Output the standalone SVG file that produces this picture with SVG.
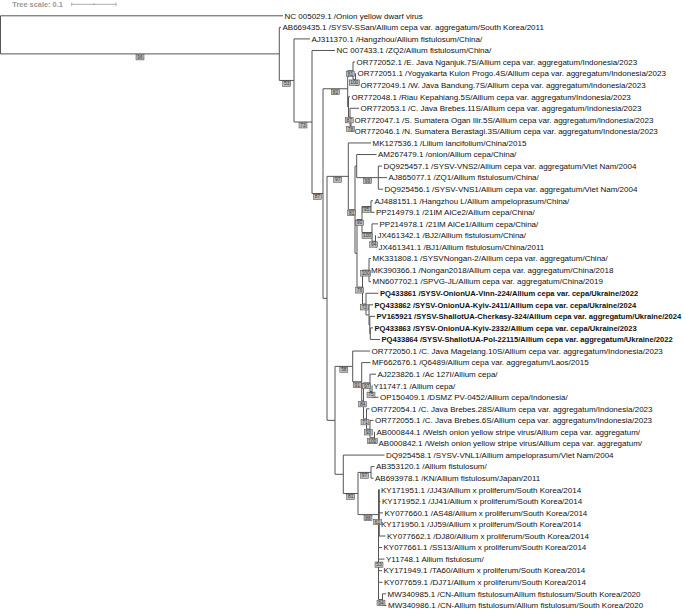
<svg xmlns="http://www.w3.org/2000/svg" width="685" height="609" viewBox="0 0 685 609">
<style>
.t{font-family:"Liberation Sans",Arial,sans-serif;font-size:8px;fill:#111}
.b{font-weight:bold;font-size:7.6px}
.br{stroke:#555;stroke-width:1;fill:none}
.bs rect{fill:#bdbdbd;stroke:#444;stroke-width:0.5}
.bs text{font-family:"Liberation Sans",Arial,sans-serif;font-size:4.8px;fill:#333;text-anchor:middle}
.sc{font-family:"Liberation Sans",Arial,sans-serif;font-size:7.4px;font-weight:bold;fill:#999}
</style>
<rect width="685" height="609" fill="#fff"/>
<g id="scale">
<text class="sc" x="12.3" y="7">Tree scale: 0.1</text>
<path d="M71.7,4.3H116M71.7,2.6V6M116,2.6V6M94,3.3V5.3" stroke="#999" stroke-width="0.8" fill="none"/>
</g>
<g id="connectors" class="br">
<path d="M0.5,15.8V53.9M0.5,15.8H283M0.5,53.9H279.3"/>
<path d="M279.3,27.36V80.45M279.3,27.36H281M279.3,80.45H294"/>
<path d="M294,38.92V122M294,38.92H310M294,122H312"/>
<path d="M312,50.48V193.55M312,50.48H335M312,193.55H323"/>
<path d="M323,88.75V298.35M323,88.75H347.7M323,298.35H327"/>
<path d="M347.7,70.7V106.8M347.7,70.7H353M347.7,106.8H348.5"/>
<path d="M353,62.04V79.38M353,62.04H355M353,79.38H355.5"/>
<path d="M355.5,73.6V85.16M355.5,73.6H356M355.5,85.16H359"/>
<path d="M348.5,96.72V116.95M348.5,96.72H350M348.5,116.95H350"/>
<path d="M350,108.28V125.62M350,108.28H359M350,125.62H351"/>
<path d="M351,119.84V131.4M351,119.84H353M351,131.4H353"/>
<path d="M327,176.35V420.35M327,176.35H348.3M327,420.35H335"/>
<path d="M348.3,142.96V209.7M348.3,142.96H371M348.3,209.7H355"/>
<path d="M355,166.1V253.3M355,166.1H356.7M355,253.3H357"/>
<path d="M356.7,154.52V177.64M356.7,154.52H376.5M356.7,177.64H378.3"/>
<path d="M378.3,166.08V189.2M378.3,166.08H382M378.3,177.64H387M378.3,189.2H383"/>
<path d="M357,219.55V287.1M357,219.55H362M357,287.1H362.5"/>
<path d="M362,206.54V232.55M362,206.54H371M362,232.55H372"/>
<path d="M371,200.76V212.32M371,200.76H373M371,212.32H374.5"/>
<path d="M372,223.88V241.22M372,223.88H378M372,241.22H375.5"/>
<path d="M375.5,235.44V247M375.5,235.44H376M375.5,247H377"/>
<path d="M362.5,270.14V304.05M362.5,270.14H369M362.5,304.05H366"/>
<path d="M369,258.56V281.68M369,258.56H371M369,270.12H369.8M369,281.68H371"/>
<path d="M366,293.24V314.9M366,293.24H378.5M366,314.9H369"/>
<path d="M369,304.8V325.05M369,304.8H373M369,325.05H369.8"/>
<path d="M369.8,316.36V333.7M369.8,316.36H375M369.8,333.7H370.3"/>
<path d="M370.3,327.92V339.48M370.3,327.92H373M370.3,339.48H380"/>
<path d="M335,366.4V474.3M335,366.4H352.7M335,474.3H343.3"/>
<path d="M352.7,351.04V381.75M352.7,351.04H370M352.7,381.75H361.7"/>
<path d="M361.7,362.6V400.9M361.7,362.6H370.5M361.7,400.9H363.5"/>
<path d="M363.5,382.83V418.96M363.5,382.83H370M363.5,418.96H366.5"/>
<path d="M370,374.16V391.5M370,374.16H376M370,391.5H372"/>
<path d="M372,385.72V397.28M372,385.72H372.5M372,397.28H378.5"/>
<path d="M366.5,408.84V429.07M366.5,408.84H369.5M366.5,429.07H370"/>
<path d="M370,420.4V437.74M370,420.4H373.5M370,437.74H374.5"/>
<path d="M374.5,431.96V443.52M374.5,431.96H375M374.5,443.52H377"/>
<path d="M343.3,455.08V493.51M343.3,455.08H384.5M343.3,493.51H358"/>
<path d="M358,472.42V514.6M358,472.42H371M358,514.6H378.5"/>
<path d="M371,466.64V478.2M371,466.64H374.5M371,478.2H373.5"/>
<path d="M378.5,489.76V599.58M379.3,489.76V536M378.5,489.76H379.5M378.5,501.32H380.5M378.5,512.88H383M378.5,524.44H379.5M378.5,536H385.5M378.5,547.56H382M378.5,559.12H384.5M378.5,570.68H382M378.5,582.24H382.5M378.5,599.58H382.5"/>
<path d="M382.5,593.8V605.36M382.5,593.8H386M382.5,605.36H386.5"/>
</g>
<g id="leaves" class="t">
<g id="n1"><text x="284.5" y="18.6">NC 005029.1 /Onion yellow dwarf virus</text></g>
<g id="n2"><text x="282.5" y="30.16">AB669435.1 /SYSV-SSan/Allium cepa var. aggregatum/South Korea/2011</text></g>
<g id="n3"><text x="311.5" y="41.72">AJ311370.1 /Hangzhou/Allium fistulosum/China/</text></g>
<g id="n4"><text x="336.5" y="53.28">NC 007433.1 /ZQ2/Allium fistulosum/China/</text></g>
<g id="n5"><text x="356.5" y="64.84">OR772052.1 /E. Java Nganjuk.7S/Allium cepa var. aggregatum/Indonesia/2023</text></g>
<g id="n6"><text x="357.5" y="76.4">OR772051.1 /Yogyakarta Kulon Progo.4S/Allium cepa var. aggregatum/Indonesia/2023</text></g>
<g id="n7"><text x="360.5" y="87.96">OR772049.1 /W. Java Bandung.7S/Allium cepa var. aggregatum/Indonesia/2023</text></g>
<g id="n8"><text x="351.5" y="99.52">OR772048.1 /Riau Kepahiang.5S/Allium cepa var. aggregatum/Indonesia/2023</text></g>
<g id="n9"><text x="360.5" y="111.08">OR772053.1 /C. Java Brebes.11S/Allium cepa var. aggregatum/Indonesia/2023</text></g>
<g id="n10"><text x="354.5" y="122.64">OR772047.1 /S. Sumatera Ogan Ilir.5S/Allium cepa var. aggregatum/Indonesia/2023</text></g>
<g id="n11"><text x="354.5" y="134.2">OR772046.1 /N. Sumatera Berastagi.3S/Allium cepa var. aggregatum/Indonesia/2023</text></g>
<g id="n12"><text x="372.5" y="145.76">MK127536.1 /Lilium lancifolium/China/2015</text></g>
<g id="n13"><text x="378" y="157.32">AM267479.1 /onion/Allium cepa/China/</text></g>
<g id="n14"><text x="383.5" y="168.88">DQ925457.1 /SYSV-VNS2/Allium cepa var. aggregatum/Viet Nam/2004</text></g>
<g id="n15"><text x="388.5" y="180.44">AJ865077.1 /ZQ1/Allium fistulosum/China/</text></g>
<g id="n16"><text x="384.5" y="192">DQ925456.1 /SYSV-VNS1/Allium cepa var. aggregatum/Viet Nam/2004</text></g>
<g id="n17"><text x="374.5" y="203.56">AJ488151.1 /Hangzhou L/Allium ampeloprasum/China/</text></g>
<g id="n18"><text x="376" y="215.12">PP214979.1 /21IM AlCe2/Allium cepa/China/</text></g>
<g id="n19"><text x="379.5" y="226.68">PP214978.1 /21IM AlCe1/Allium cepa/China/</text></g>
<g id="n20"><text x="377.5" y="238.24">JX461342.1 /BJ2/Allium fistulosum/China/</text></g>
<g id="n21"><text x="378.5" y="249.8">JX461341.1 /BJ1/Allium fistulosum/China/2011</text></g>
<g id="n22"><text x="372.5" y="261.36">MK331808.1 /SYSVNongan-2/Allium cepa var. aggregatum/China/</text></g>
<g id="n23"><text x="371" y="272.92">MK390366.1 /Nongan2018/Allium cepa var. aggregatum/China/2018</text></g>
<g id="n24"><text x="372.5" y="284.48">MN607702.1 /SPVG-JL/Allium cepa var. aggregatum/China/2019</text></g>
<g id="n25"><text class="b" x="380" y="296.04">PQ433861 /SYSV-OnionUA-Vinn-224/Allium cepa var. cepa/Ukraine/2022</text></g>
<g id="n26"><text class="b" x="374.5" y="307.6">PQ433862 /SYSV-OnionUA-Kyiv-2411/Allium cepa var. cepa/Ukraine/2024</text></g>
<g id="n27"><text class="b" x="376.5" y="319.16">PV165921 /SYSV-ShallotUA-Cherkasy-324/Allium cepa var. aggregatum/Ukraine/2024</text></g>
<g id="n28"><text class="b" x="374.5" y="330.72">PQ433863 /SYSV-OnionUA-Kyiv-2332/Allium cepa var. cepa/Ukraine/2023</text></g>
<g id="n29"><text class="b" x="381.5" y="342.28">PQ433864 /SYSV-ShallotUA-Pol-22115/Allium cepa var. aggregatum/Ukraine/2022</text></g>
<g id="n30"><text x="371.5" y="353.84">OR772050.1 /C. Java Magelang.10S/Allium cepa var. aggregatum/Indonesia/2023</text></g>
<g id="n31"><text x="372" y="365.4">MF662676.1 /Q6489/Allium cepa var. aggregatum/Laos/2015</text></g>
<g id="n32"><text x="377.5" y="376.96">AJ223826.1 /Ac 127I/Allium cepa/</text></g>
<g id="n33"><text x="373.5" y="388.52">Y11747.1 /Allium cepa/</text></g>
<g id="n34"><text x="380" y="400.08">OP150409.1 /DSMZ PV-0452/Allium cepa/Indonesia/</text></g>
<g id="n35"><text x="371" y="411.64">OR772054.1 /C. Java Brebes.28S/Allium cepa var. aggregatum/Indonesia/2023</text></g>
<g id="n36"><text x="375" y="423.2">OR772055.1 /C. Java Brebes.6S/Allium cepa var. aggregatum/Indonesia/2023</text></g>
<g id="n37"><text x="376.5" y="434.76">AB000844.1 /Welsh onion yellow stripe virus/Allium cepa var. aggregatum/</text></g>
<g id="n38"><text x="378.5" y="446.32">AB000842.1 /Welsh onion yellow stripe virus/Allium cepa var. aggregatum/</text></g>
<g id="n39"><text x="386" y="457.88">DQ925458.1 /SYSV-VNL1/Allium ampeloprasum/Viet Nam/2004</text></g>
<g id="n40"><text x="376" y="469.44">AB353120.1 /Allium fistulosum/</text></g>
<g id="n41"><text x="375" y="481">AB693978.1 /KN/Allium fistulosum/Japan/2011</text></g>
<g id="n42"><text x="381" y="492.56">KY171951.1 /JJ43/Allium x proliferum/South Korea/2014</text></g>
<g id="n43"><text x="382" y="504.12">KY171952.1 /JJ41/Allium x proliferum/South Korea/2014</text></g>
<g id="n44"><text x="384.5" y="515.68">KY077660.1 /AS48/Allium x proliferum/South Korea/2014</text></g>
<g id="n45"><text x="381" y="527.24">KY171950.1 /JJ59/Allium x proliferum/South Korea/2014</text></g>
<g id="n46"><text x="387" y="538.8">KY077662.1 /DJ80/Allium x proliferum/South Korea/2014</text></g>
<g id="n47"><text x="383.5" y="550.36">KY077661.1 /SS13/Allium x proliferum/South Korea/2014</text></g>
<g id="n48"><text x="386" y="561.92">Y11748.1 Allium fistulosum/</text></g>
<g id="n49"><text x="383.5" y="573.48">KY171949.1 /TA60/Allium x proliferum/South Korea/2014</text></g>
<g id="n50"><text x="384" y="585.04">KY077659.1 /DJ71/Allium x proliferum/South Korea/2014</text></g>
<g id="n51"><text x="387.5" y="596.6">MW340985.1 /CN-Allium fistulosumAllium fistulosum/South Korea/2020</text></g>
<g id="n52"><text x="388" y="608.16">MW340986.1 /CN-Allium fistulosum/Allium fistulosum/South Korea/2020</text></g>
</g>
<g id="support" class="bs">
<g><rect x="136" y="54.5" width="8" height="5.4"/><text x="140" y="58.8">96</text></g>
<g><rect x="282.7" y="81" width="8" height="5.4"/><text x="286.7" y="85.3">53</text></g>
<g><rect x="299" y="122.6" width="8" height="5.4"/><text x="303" y="126.9">73</text></g>
<g><rect x="313.5" y="194.1" width="8" height="5.4"/><text x="317.5" y="198.4">87</text></g>
<g><rect x="331.4" y="89.3" width="8" height="5.4"/><text x="335.4" y="93.6">82</text></g>
<g><rect x="346.4" y="71.2" width="8" height="5.4"/><text x="350.4" y="75.5">81</text></g>
<g><rect x="349.3" y="79.9" width="10" height="5.4"/><text x="354.3" y="84.2">100</text></g>
<g><rect x="345.2" y="117.5" width="8" height="5.4"/><text x="349.2" y="121.8">87</text></g>
<g><rect x="346.5" y="126.2" width="8" height="5.4"/><text x="350.5" y="130.5">78</text></g>
<g><rect x="333.7" y="176.9" width="8" height="5.4"/><text x="337.7" y="181.2">97</text></g>
<g><rect x="347.7" y="210.3" width="8" height="5.4"/><text x="351.7" y="214.6">81</text></g>
<g><rect x="363.5" y="178.2" width="8" height="5.4"/><text x="367.5" y="182.5">99</text></g>
<g><rect x="355.5" y="220.1" width="8" height="5.4"/><text x="359.5" y="224.4">90</text></g>
<g><rect x="362.5" y="207.1" width="8" height="5.4"/><text x="366.5" y="211.4">95</text></g>
<g><rect x="362" y="233.1" width="10" height="5.4"/><text x="367" y="237.4">100</text></g>
<g><rect x="369.7" y="241.8" width="8" height="5.4"/><text x="373.7" y="246.1">94</text></g>
<g><rect x="355.7" y="287.7" width="8" height="5.4"/><text x="359.7" y="292">76</text></g>
<g><rect x="360.7" y="270.7" width="10" height="5.4"/><text x="365.7" y="275">100</text></g>
<g><rect x="360.3" y="304.6" width="8" height="5.4"/><text x="364.3" y="308.9">73</text></g>
<g><rect x="339.8" y="367" width="8" height="5.4"/><text x="343.8" y="371.3">58</text></g>
<g><rect x="353.2" y="382.3" width="8" height="5.4"/><text x="357.2" y="386.6">91</text></g>
<g><rect x="358.6" y="401.5" width="8" height="5.4"/><text x="362.6" y="405.8">84</text></g>
<g><rect x="362.7" y="383.4" width="8" height="5.4"/><text x="366.7" y="387.7">97</text></g>
<g><rect x="367" y="392.1" width="8" height="5.4"/><text x="371" y="396.4">75</text></g>
<g><rect x="361" y="419.5" width="8" height="5.4"/><text x="365" y="423.8">71</text></g>
<g><rect x="364.3" y="429.6" width="8" height="5.4"/><text x="368.3" y="433.9">93</text></g>
<g><rect x="367.3" y="438.3" width="10" height="5.4"/><text x="372.3" y="442.6">100</text></g>
<g><rect x="346.7" y="494.1" width="8" height="5.4"/><text x="350.7" y="498.4">81</text></g>
<g><rect x="360.5" y="473" width="8" height="5.4"/><text x="364.5" y="477.3">97</text></g>
<g><rect x="364" y="515.2" width="8" height="5.4"/><text x="368" y="519.5">88</text></g>
<g><rect x="373.5" y="519.3" width="8" height="5.4"/><text x="377.5" y="523.6">61</text></g>
<g><rect x="375" y="562" width="8" height="5.4"/><text x="379" y="566.3">53</text></g>
<g><rect x="377" y="600.2" width="8" height="5.4"/><text x="381" y="604.5">94</text></g>
</g>
</svg>
